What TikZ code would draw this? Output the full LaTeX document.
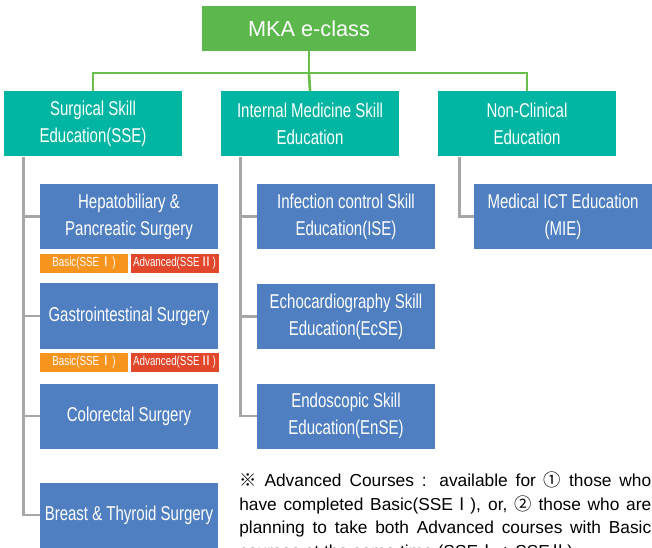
\documentclass[tikz,border=0pt]{standalone}
\usepackage{fontspec}
\setmainfont{Liberation Sans}
\newfontfamily\boxfont{Liberation Sans}[FakeStretch=0.75]
\newfontfamily\cjk{Noto Sans CJK KR}
\usepackage{tikz}
\usetikzlibrary{positioning}
\definecolor{topgreen}{HTML}{5CB84C}
\definecolor{catteal}{HTML}{00B5A2}
\definecolor{subblue}{HTML}{4F7FC1}
\definecolor{tagorange}{HTML}{F7941E}
\definecolor{tagred}{HTML}{E2462B}
\definecolor{linkgreen}{HTML}{6ABF4B}
\definecolor{linkgray}{HTML}{A6A6A6}
\tikzset{
  box/.style={fill=#1, text=white, align=center, inner sep=0pt,
    minimum width=133.5pt, minimum height=48.75pt,
    font=\boxfont\fontsize{15}{20.25}\selectfont},
  cat/.style={box=catteal},
  sub/.style={box=subblue},
  tag/.style={fill=#1, text=white, inner sep=0pt,
    minimum width=66pt, minimum height=14.25pt,
    font=\boxfont\fontsize{9.8}{11}\selectfont},
  greenlink/.style={draw=linkgreen, line width=2pt},
  graylink/.style={draw=linkgray, line width=2.2pt}
}

\begin{document}
\begin{tikzpicture}[x=0.75pt, y=-0.75pt]
    \useasboundingbox (0,0) rectangle (652,548);
    \clip (0,0) rectangle (652,548);

    \node (mka) [fill=topgreen, text=white, minimum width=160.5pt, minimum height=33.75pt,
      inner sep=0pt, font=\fontsize{16.3}{18}\selectfont] at (309,28.5) {MKA e-class};

    \node (sse) [cat] at (93,124) {Surgical Skill\\Education(SSE)};
    \node (ims) [cat] at (310,124) {Internal Medicine Skill\\Education};
    \node (ncl) [cat] at (527,124) {Non-Clinical\\Education};

    \node (s1) [sub] at (129,216.5) {Hepatobiliary \&\\Pancreatic Surgery};
    \node (s2) [sub] at (129,316) {Gastrointestinal Surgery};
    \node (s3) [sub] at (129,416) {Colorectal Surgery};
    \node (s4) [sub] at (129,515) {Breast \& Thyroid Surgery};

    \node (b1) [tag=tagorange, below right=3pt and 0pt of s1.south west] {Basic(SSE{\cjk Ⅰ})};
    \node (v1) [tag=tagred, right=1.5pt of b1] {Advanced(SSE{\cjk Ⅱ})};
    \node (b2) [tag=tagorange, below right=3pt and 0pt of s2.south west] {Basic(SSE{\cjk Ⅰ})};
    \node (v2) [tag=tagred, right=1.5pt of b2] {Advanced(SSE{\cjk Ⅱ})};

    \node (i1) [sub] at (346,216.5) {Infection control Skill\\Education(ISE)};
    \node (i2) [sub] at (346,316.5) {Echocardiography Skill\\Education(EcSE)};
    \node (i3) [sub] at (346,416) {Endoscopic Skill\\Education(EnSE)};

    \node (n1) [sub] at (563,216.5) {Medical ICT Education\\(MIE)};

    \coordinate (bus) at (309,73);
    \draw[greenlink] (mka.south) -- (bus);
    \draw[greenlink] (sse.north) |- (bus) -| (ncl.north);
    \draw[greenlink] (bus) -- (ims.north);

    \coordinate (st) at ([xshift=15pt]sse.south west);
    \coordinate (it) at ([xshift=15pt]ims.south west);
    \coordinate (nt) at ([xshift=16.5pt]ncl.south west);
    \draw[graylink] (st) |- (s4.west);
    \foreach \s in {s1,s2,s3} \draw[graylink] (st |- \s.west) -- (\s.west);
    \draw[graylink] (it) |- (i3.west);
    \foreach \s in {i1,i2} \draw[graylink] (it |- \s.west) -- (\s.west);
    \draw[graylink] (nt) |- (n1.west);

    \node (note) [anchor=north west, inner sep=0pt, text width=309pt, align=justify,
      font=\fontsize{13}{17.6}\selectfont] at (239,472) {%
      \makebox[309pt][s]{{\cjk ※} Advanced Courses : available for {\cjk ①} those who}\\
      \makebox[309pt][s]{have completed Basic(SSE{\cjk Ⅰ}), or, {\cjk ②} those who are}\\
      \makebox[309pt][s]{planning to take both Advanced courses with Basic}\\
      courses at the same time (SSE{\cjk Ⅰ} + SSE{\cjk Ⅱ}).};
\end{tikzpicture}
\end{document}
